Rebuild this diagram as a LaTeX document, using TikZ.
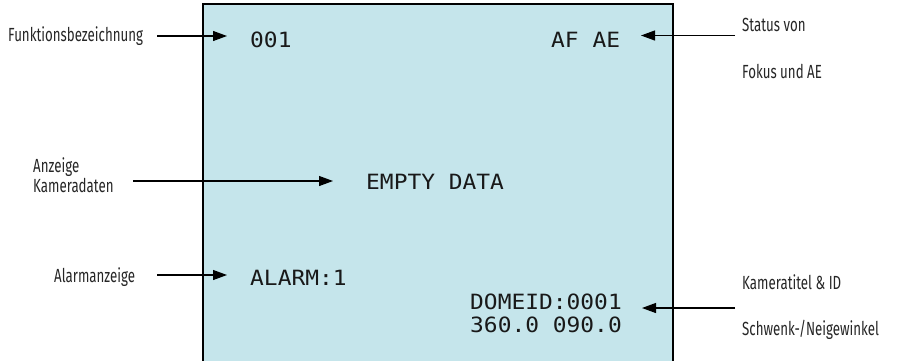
\documentclass[tikz,border=0pt]{standalone}
\usepackage{fontspec}
\usetikzlibrary{arrows.meta}
\newfontfamily\labfont[FakeStretch=0.7]{Fira Sans}
\newfontfamily\scrfont[FakeStretch=1.09]{DejaVu Sans Mono}
\definecolor{screenblue}{RGB}{197,229,235}
\tikzset{
  lab/.style={anchor=base west, inner sep=0pt, font=\labfont\fontsize{19}{22}\selectfont, text=black!85},
  scr/.style={anchor=base west, inner sep=0pt, font=\scrfont\fontsize{21}{24}\selectfont, text=black!90},
  arr/.style={-{Triangle[length=14pt,width=10pt]}, line width=1.1pt, black},
}
\begin{document}
\begin{tikzpicture}[x=1pt,y=-1pt]
\useasboundingbox (0,0) rectangle (907,360);
% screen
\fill[screenblue] (203,4) rectangle (673,362);
\draw[line width=1.3pt] (203,362) -- (203,4) -- (673,4) -- (673,362);
% screen texts
\node[scr] (t001) at (250,47.5) {001};
\node[scr] (tafae) at (551,47.5) {AF AE};
\node[scr] (tempty) at (366,189) {EMPTY DATA};
\node[scr] (talarm) at (250,285) {ALARM:1};
\node[scr] (tdome) at (470,309) {DOMEID:0001};
\node[scr] (tangle) at (470,332) {360.0 090.0};
% labels
\node[lab] (lfunk) at (8,41.7) {Funktionsbezeichnung};
\node[lab] (lstat) at (742,31.7) {Status von};
\node[lab] (lfok) at (742,78) {Fokus und AE};
\node[lab] (lanz) at (33,172) {Anzeige};
\node[lab] (lkam) at (33,192) {Kameradaten};
\node[lab] (lalarm) at (54,282) {Alarmanzeige};
\node[lab] (ltitel) at (742,289) {Kameratitel \& ID};
\node[lab] (lschw) at (742,335) {Schwenk-/Neigewinkel};
% arrow ends
\coordinate (a1s) at (157,36);   \coordinate (a1e) at (227,36);
\coordinate (a2s) at (735,35.5); \coordinate (a2e) at (641,35.5);
\coordinate (a3s) at (133,181);  \coordinate (a3e) at (333,181);
\coordinate (a4s) at (157,275);  \coordinate (a4e) at (227,275);
\coordinate (a5s) at (735,308);  \coordinate (a5e) at (642,308);
\draw[arr] (a1s) -- (a1e);
\draw[arr] (a2s) -- (a2e);
\draw[arr] (a3s) -- (a3e);
\draw[arr] (a4s) -- (a4e);
\draw[arr] (a5s) -- (a5e);
\end{tikzpicture}
\end{document}
